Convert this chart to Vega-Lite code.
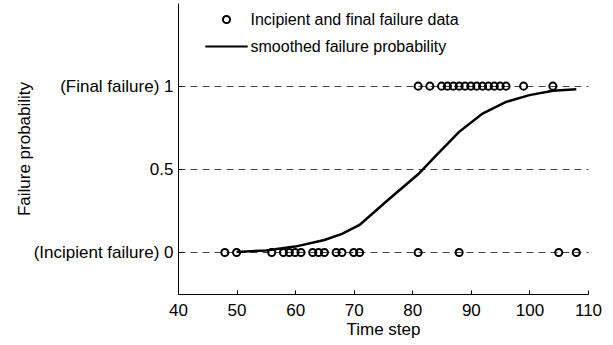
{
  "$schema": "https://vega.github.io/schema/vega-lite/v6.json",
  "width": 410,
  "height": 291,
  "autosize": {"type": "none"},
  "padding": {"left": 178, "top": 3, "right": 25, "bottom": 51},
  "background": "white",
  "config": {
    "view": {"stroke": null},
    "font": "Liberation Sans",
    "axis": {
      "domainColor": "black",
      "domainWidth": 1,
      "tickColor": "black",
      "tickSize": -4,
      "labelColor": "black",
      "labelFontSize": 17,
      "titleColor": "black",
      "titleFontSize": 17,
      "titleFontWeight": "normal"
    },
    "legend": {
      "orient": "none",
      "legendX": 40.5,
      "legendY": 8.5,
      "padding": 0,
      "rowPadding": 11,
      "labelFontSize": 16,
      "labelColor": "black",
      "labelLimit": 0,
      "labelOffset": 16,
      "symbolSize": 50,
      "symbolStrokeWidth": 2,
      "symbolStrokeColor": "black"
    }
  },
  "datasets": {
    "observed": [
      {"step": 48, "state": 0}, {"step": 50, "state": 0}, {"step": 56, "state": 0},
      {"step": 58, "state": 0}, {"step": 59, "state": 0}, {"step": 60, "state": 0},
      {"step": 61, "state": 0}, {"step": 63, "state": 0}, {"step": 64, "state": 0},
      {"step": 65, "state": 0}, {"step": 67, "state": 0}, {"step": 68, "state": 0},
      {"step": 70, "state": 0}, {"step": 71, "state": 0}, {"step": 81, "state": 0},
      {"step": 88, "state": 0}, {"step": 105, "state": 0}, {"step": 108, "state": 0},
      {"step": 81, "state": 1}, {"step": 83, "state": 1}, {"step": 85, "state": 1},
      {"step": 86, "state": 1}, {"step": 87, "state": 1}, {"step": 88, "state": 1},
      {"step": 89, "state": 1}, {"step": 90, "state": 1}, {"step": 91, "state": 1},
      {"step": 92, "state": 1}, {"step": 93, "state": 1}, {"step": 94, "state": 1},
      {"step": 95, "state": 1}, {"step": 96, "state": 1}, {"step": 99, "state": 1},
      {"step": 104, "state": 1}
    ],
    "smoothed": [
      {"step": 50, "prob": 0.003}, {"step": 55, "prob": 0.012}, {"step": 60, "prob": 0.035},
      {"step": 65, "prob": 0.075}, {"step": 68, "prob": 0.112}, {"step": 71, "prob": 0.165},
      {"step": 76, "prob": 0.32}, {"step": 81, "prob": 0.47}, {"step": 84, "prob": 0.58},
      {"step": 88, "prob": 0.725}, {"step": 92, "prob": 0.835}, {"step": 96, "prob": 0.905},
      {"step": 100, "prob": 0.946}, {"step": 104, "prob": 0.972}, {"step": 108, "prob": 0.982}
    ]
  },
  "layer": [
    {
      "data": {"name": "observed"},
      "mark": {"type": "point", "filled": false, "color": "black", "size": 50, "strokeWidth": 2, "opacity": 1},
      "encoding": {
        "x": {
          "field": "step", "type": "quantitative",
          "scale": {"domain": [40, 110], "nice": false},
          "axis": {"title": "Time step", "values": [40, 50, 60, 70, 80, 90, 100, 110], "grid": false, "labelPadding": 12, "titlePadding": 3, "labelFlush": false}
        },
        "y": {
          "field": "state", "type": "quantitative",
          "scale": {"domain": [-0.25, 1.5], "nice": false, "zero": false},
          "axis": {
            "title": "Failure probability",
            "values": [0, 0.5, 1],
            "grid": true,
            "gridColor": "#444444",
            "gridDash": [7, 5],
            "gridWidth": 1,
            "labelPadding": 9,
            "titlePadding": 0,
            "labelExpr": "datum.value == 1 ? '(Final failure) 1' : (datum.value == 0 ? '(Incipient failure) 0' : '0.5')"
          }
        },
        "shape": {
          "datum": "Incipient and final failure data",
          "scale": {
            "domain": ["Incipient and final failure data", "smoothed failure probability"],
            "range": ["circle", "M-6,0H6"]
          },
          "legend": {"title": null}
        }
      }
    },
    {
      "data": {"name": "smoothed"},
      "mark": {"type": "line", "color": "black", "strokeWidth": 2.5},
      "encoding": {
        "x": {"field": "step", "type": "quantitative"},
        "y": {"field": "prob", "type": "quantitative"}
      }
    }
  ]
}
